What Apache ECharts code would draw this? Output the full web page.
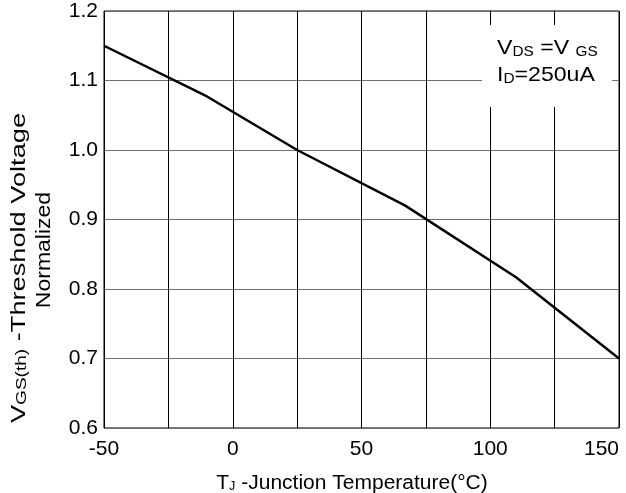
<!DOCTYPE html>
<html>
<head>
<meta charset="utf-8">
<script src="https://cdn.jsdelivr.net/npm/echarts@6/dist/echarts.min.js"></script>
<style>
  html, body { margin: 0; padding: 0; background: #fff; }
  #chart { width: 626px; height: 493px; }
</style>
</head>
<body>
<div id="chart"></div>
<script>
// 数据：结温 (°C) 与归一化阈值电压
var tempC = [-50, -10, 25, 67, 110, 150];
var vthNorm = [1.15, 1.077, 1.0, 0.92, 0.817, 0.70];
var xTicks = [-50, 0, 50, 100, 150];
var yTicks = [0.6, 0.7, 0.8, 0.9, 1.0, 1.1, 1.2];

var FONT = 'Liberation Sans, Arial, sans-serif';

var myChart = echarts.init(document.getElementById('chart'));

var points = [];
for (var i = 0; i < tempC.length; i++) {
    points.push([tempC[i], vthNorm[i]]);
}

option = {
    backgroundColor: '#ffffff',
    animation: false,
    grid: {
        left: 104, right: 7, top: 11, bottom: 65,
        outerBoundsMode: 'none',
        show: true, borderColor: '#000', borderWidth: 1
    },
    xAxis: {
        type: 'value',
        min: xTicks[0],
        max: xTicks[xTicks.length - 1],
        interval: 50,
        axisLine: { show: false },
        axisTick: { show: false },
        axisLabel: { color: '#000', fontSize: 21, fontFamily: FONT, margin: 11, alignMaxLabel: 'right' },
        splitLine: { show: true, lineStyle: { color: '#000', width: 1 } },
        minorTick: { show: false, splitNumber: 2 },
        minorSplitLine: { show: true, lineStyle: { color: '#000', width: 1 } }
    },
    yAxis: {
        type: 'value',
        min: yTicks[0],
        max: yTicks[yTicks.length - 1],
        interval: 0.1,
        axisLine: { show: false },
        axisTick: { show: false },
        axisLabel: {
            color: '#000', fontSize: 21, fontFamily: FONT, margin: 6,
            formatter: function (v) { return v.toFixed(1); }
        },
        splitLine: { show: true, lineStyle: { color: '#6e6e6e', width: 1 } }
    },
    series: [{
        type: 'line',
        data: points,
        symbol: 'none',
        lineStyle: { color: '#000', width: 2.5 },
        z: 5
    }],
    graphic: [
        // 条件说明框
        {
            type: 'rect', left: 482, top: 25, z: 10,
            shape: { width: 130, height: 82 },
            style: { fill: '#fff' }
        },
        {
            type: 'text', x: 497, y: 32, scaleX: 1.1, z: 11,
            style: {
                text: '{v|V}{s|DS}{v| =V }{s|GS}\n{v|I}{s|D}{v|=250uA}',
                fill: '#000',
                rich: {
                    v: { fontSize: 21, fontFamily: FONT, lineHeight: 27, verticalAlign: 'bottom' },
                    s: { fontSize: 14, fontFamily: FONT, lineHeight: 27, verticalAlign: 'bottom' }
                }
            }
        },
        // 纵轴标题
        {
            type: 'text', x: 18, y: 268, rotation: Math.PI / 2, scaleX: 1.36, z: 11,
            style: {
                text: '{v|V}{s|GS(th)}{v| -Threshold Voltage}',
                align: 'center', verticalAlign: 'middle', fill: '#000',
                rich: {
                    v: { fontSize: 20, fontFamily: FONT, verticalAlign: 'bottom', lineHeight: 22 },
                    s: { fontSize: 14, fontFamily: FONT, verticalAlign: 'bottom', lineHeight: 22 }
                }
            }
        },
        {
            type: 'text', x: 44, y: 250, rotation: Math.PI / 2, scaleX: 1.15, z: 11,
            style: {
                text: 'Normalized', align: 'center', verticalAlign: 'middle',
                fill: '#000', fontSize: 20, fontFamily: FONT
            }
        },
        // 横轴标题
        {
            type: 'text', x: 352, y: 481, scaleX: 1.05, z: 11,
            style: {
                text: '{v|T}{s|J}{v| -Junction Temperature(°C)}',
                align: 'center', verticalAlign: 'middle', fill: '#000',
                rich: {
                    v: { fontSize: 20, fontFamily: FONT, verticalAlign: 'bottom', lineHeight: 24 },
                    s: { fontSize: 12, fontFamily: FONT, verticalAlign: 'bottom', lineHeight: 24 }
                }
            }
        }
    ]
};
myChart.setOption(option);
</script>
</body>
</html>
